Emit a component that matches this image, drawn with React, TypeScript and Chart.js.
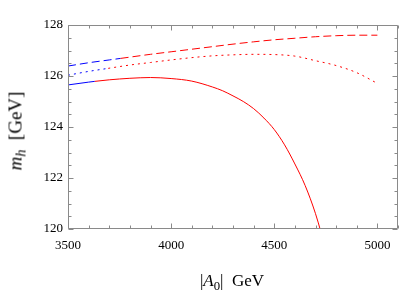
import React, { useEffect, useRef } from "react";
import { Chart, registerables } from "chart.js";

Chart.register(...registerables);

// Solid curve (blue up to solidBlueEnd, red afterwards)
const solidX = [3500, 3600, 3630, 3700, 3800, 3900, 4000, 4100, 4200, 4250, 4300, 4350, 4400, 4450, 4500, 4550, 4600, 4650, 4700, 4750];
const solidY = [125.65, 125.76, 125.79, 125.85, 125.91, 125.94, 125.9, 125.8, 125.57, 125.42, 125.22, 125.0, 124.72, 124.35, 123.9, 123.3, 122.55, 121.7, 120.6, 119.2];
const solidBlueEnd = 3630;

// Dashed curve
const dashX = [3500, 3600, 3700, 3755, 3800, 3900, 4000, 4100, 4200, 4300, 4400, 4500, 4600, 4700, 4800, 4900, 5000];
const dashY = [126.39, 126.52, 126.63, 126.69, 126.74, 126.85, 126.95, 127.05, 127.15, 127.25, 127.34, 127.42, 127.48, 127.54, 127.58, 127.6, 127.6];
const dashBlueEnd = 3755;

// Dotted curve
const dotX = [3500, 3600, 3695, 3800, 3900, 4000, 4100, 4200, 4300, 4400, 4500, 4600, 4700, 4800, 4900, 5000];
const dotY = [126.03, 126.18, 126.3, 126.43, 126.53, 126.63, 126.72, 126.79, 126.83, 126.85, 126.84, 126.78, 126.6, 126.41, 126.13, 125.71];
const dotBlueEnd = 3695;

const xMin = 3500;
const xMax = 5100;
const xStep = 100;
const xLabelEvery = 500;
const yMin = 120;
const yMax = 128;
const yStep = 0.5;
const yLabelEvery = 2;

const BLUE = "#0000ff";
const RED = "#ff0000";
const FRAME = "#8a8a8a";
const SERIF = "'Liberation Serif', 'DejaVu Serif', serif";

const toPts = (xs: number[], ys: number[]) => xs.map((x, i) => ({ x, y: ys[i] }));

const framePlugin = {
  id: "mmaFrame",
  afterDatasetsDraw(chart: any) {
    const { ctx, chartArea, scales } = chart;
    const { left, right, top, bottom } = chartArea;
    const xs = scales.x;
    const ys = scales.y;
    ctx.save();
    ctx.strokeStyle = FRAME;
    ctx.lineWidth = 1;
    const L = Math.round(left) + 0.5;
    const R = Math.round(right) - 0.5;
    const T = Math.round(top) + 0.5;
    const B = Math.round(bottom) - 0.5;
    ctx.beginPath();
    ctx.rect(L, T, R - L, B - T);
    ctx.stroke();
    ctx.beginPath();
    xs.ticks.forEach((t: any) => {
      const v = t.value;
      const px = Math.round(xs.getPixelForValue(v)) + 0.5;
      const major = Math.abs(v % xLabelEvery) < 1e-6;
      const len = major ? 5 : 3;
      ctx.moveTo(px, B);
      ctx.lineTo(px, B - len);
      ctx.moveTo(px, T);
      ctx.lineTo(px, T + len);
    });
    ys.ticks.forEach((t: any) => {
      const v = t.value;
      const py = Math.round(ys.getPixelForValue(v)) + 0.5;
      const major = Math.abs(v % yLabelEvery) < 1e-6;
      const len = major ? 5 : 3;
      ctx.moveTo(L, py);
      ctx.lineTo(L + len, py);
      ctx.moveTo(R, py);
      ctx.lineTo(R - len, py);
    });
    ctx.stroke();
    ctx.restore();
  },
};

const mkSet = (xs: number[], ys: number[], blueEnd: number, dash: number[]) => ({
  data: toPts(xs, ys),
  borderColor: RED,
  borderWidth: 1,
  borderDash: dash,
  pointRadius: 0,
  cubicInterpolationMode: "monotone" as const,
  segment: {
    borderColor: (c: any) => (c.p1.parsed.x <= blueEnd + 1e-6 ? BLUE : RED),
  },
});

const subStyle: React.CSSProperties = {
  fontSize: "0.75em",
  verticalAlign: "baseline",
  position: "relative",
  top: "0.3em",
};

export default function App() {
  const ref = useRef<HTMLCanvasElement | null>(null);

  useEffect(() => {
    document.body.style.margin = "0";
    if (!ref.current) return;
    const chart = new Chart(ref.current, {
      type: "line",
      data: {
        datasets: [
          mkSet(solidX, solidY, solidBlueEnd, []),
          mkSet(dashX, dashY, dashBlueEnd, [8, 4]),
          mkSet(dotX, dotY, dotBlueEnd, [2, 4]),
        ],
      },
      options: {
        responsive: false,
        animation: false,
        events: [],
        layout: { padding: { left: 0, right: 17, top: 25, bottom: 38 } },
        plugins: { legend: { display: false }, tooltip: { enabled: false } },
        scales: {
          x: {
            type: "linear",
            min: xMin,
            max: xMax,
            grid: { display: false, drawTicks: false },
            border: { display: false },
            afterFit: (s: any) => {
              s.height = 30;
            },
            ticks: {
              stepSize: xStep,
              autoSkip: false,
              maxRotation: 0,
              padding: 9,
              color: "#000",
              font: { family: SERIF, size: 13 },
              callback: (v: any) => (Math.abs(Number(v) % xLabelEvery) < 1e-6 ? String(v) : ""),
            },
          },
          y: {
            type: "linear",
            min: yMin,
            max: yMax,
            grid: { display: false, drawTicks: false },
            border: { display: false },
            afterFit: (s: any) => {
              s.width = 68;
            },
            ticks: {
              stepSize: yStep,
              autoSkip: false,
              padding: 5,
              color: "#000",
              font: { family: SERIF, size: 13 },
              callback: (v: any) => (Math.abs(Number(v) % yLabelEvery) < 1e-6 ? String(v) : ""),
            },
          },
        },
      },
      plugins: [framePlugin],
    } as any);
    return () => chart.destroy();
  }, []);

  return (
    <div style={{ position: "relative", width: 415, height: 297, background: "#fff", fontFamily: SERIF }}>
      <canvas ref={ref} width={415} height={297} style={{ display: "block" }} />
      <div
        style={{
          position: "absolute",
          left: 16,
          top: 131,
          transform: "translate(-50%, -50%) rotate(-90deg)",
          whiteSpace: "nowrap",
          fontSize: 19,
          lineHeight: "20px",
        }}
      >
        <i>m</i>
        <span style={subStyle}>
          <i>h</i>
        </span>
        &nbsp;&nbsp;[GeV]
      </div>
      <div
        style={{
          position: "absolute",
          left: 232,
          top: 281,
          transform: "translate(-50%, -50%)",
          whiteSpace: "nowrap",
          fontSize: 17,
          lineHeight: "18px",
        }}
      >
        |<i>A</i>
        <span style={subStyle}>0</span>|&nbsp;&nbsp;GeV
      </div>
    </div>
  );
}
